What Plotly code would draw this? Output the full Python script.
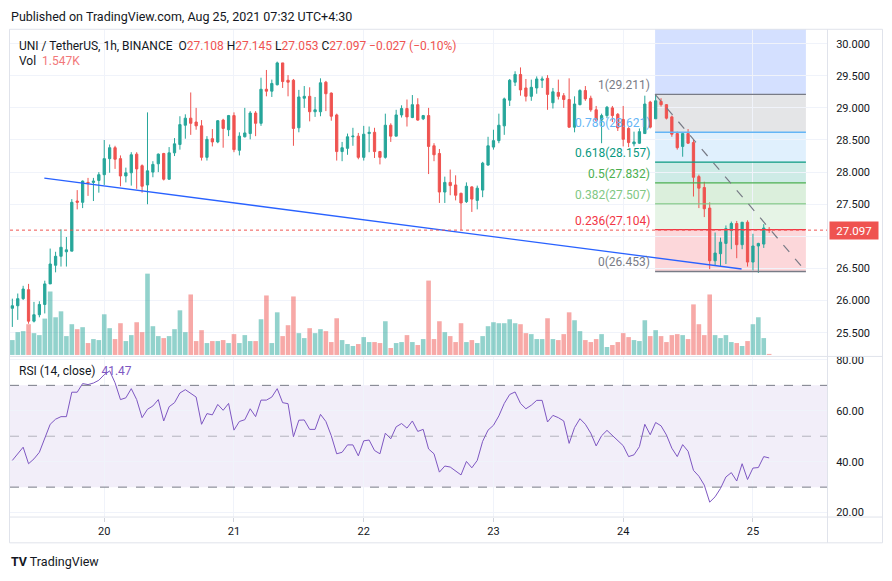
import pandas as pd
import plotly.graph_objects as go

# ---------------- data ----------------
first_bar = "2021-08-19 07:00"   # 1h candles

opens = [25.88, 25.92, 26.03, 26.17, 25.68, 25.78, 25.94, 26.26, 26.55, 26.69,
         26.76, 26.77, 27.55, 27.53, 27.84, 27.84, 27.87, 27.96, 28.21, 28.38,
         28.21, 27.94, 27.99, 28.28, 28.10, 27.80, 28.00, 28.13, 28.29, 27.89,
         28.30, 28.43, 28.73, 28.84, 28.78, 28.72, 28.23, 28.52, 28.47, 28.81,
         28.66, 28.88, 28.34, 28.55, 28.60, 28.92, 28.76, 29.29, 29.26, 29.36,
         29.70, 29.43, 29.43, 28.69, 29.15, 29.18, 28.94, 28.94, 29.40, 29.23,
         28.89, 28.32, 28.37, 28.55, 28.56, 28.23, 28.60, 28.62, 28.32, 28.23,
         28.73, 28.56, 28.89, 28.99, 28.85, 29.05, 28.83, 28.88, 28.41, 28.29,
         27.69, 27.84, 27.80, 27.67, 27.54, 27.77, 27.56, 27.72, 28.11, 28.39,
         28.49, 28.72, 29.12, 29.40, 29.52, 29.31, 29.18, 29.31, 29.43, 29.46,
         29.08, 29.24, 29.19, 29.13, 28.70, 29.05, 29.27, 29.15, 28.97, 28.81,
         28.88, 29.00, 28.90, 28.82, 28.68, 28.44, 28.45, 28.60, 29.09, 28.83,
         29.10, 29.05, 28.86, 28.60, 28.40, 28.60, 28.46, 27.93, 27.76, 27.44,
         26.62, 26.73, 26.89, 27.09, 27.20, 26.87, 27.22, 26.60, 26.85, 26.88,
         27.108]
highs = [26.03, 26.11, 26.23, 26.26, 25.98, 25.99, 26.31, 26.81, 26.76, 27.11,
         26.99, 27.58, 27.72, 27.87, 27.91, 27.91, 28.00, 28.50, 28.43, 28.41,
         28.26, 28.07, 28.31, 28.31, 28.12, 28.93, 28.17, 28.29, 28.30, 28.39,
         28.53, 28.87, 28.90, 29.24, 29.00, 28.81, 28.56, 28.67, 28.81, 28.83,
         28.89, 28.93, 28.62, 29.00, 28.95, 28.95, 29.47, 29.59, 29.44, 29.72,
         29.70, 29.51, 29.45, 29.28, 29.34, 29.32, 29.17, 29.46, 29.42, 29.24,
         28.91, 28.47, 28.60, 28.69, 28.61, 28.72, 28.71, 28.69, 28.33, 28.91,
         28.76, 28.97, 29.04, 29.13, 29.20, 29.15, 28.89, 29.00, 28.45, 28.36,
         27.93, 28.04, 27.95, 27.68, 27.84, 27.78, 27.79, 28.16, 28.55, 28.66,
         28.91, 29.16, 29.45, 29.57, 29.63, 29.45, 29.44, 29.49, 29.49, 29.51,
         29.31, 29.44, 29.23, 29.46, 29.18, 29.29, 29.34, 29.19, 29.03, 28.91,
         29.03, 29.03, 28.92, 29.03, 28.70, 28.63, 28.68, 29.19, 29.11, 29.211,
         29.15, 29.06, 28.88, 28.63, 28.60, 28.67, 28.50, 27.96, 27.85, 27.53,
         27.06, 26.98, 27.17, 27.23, 27.24, 27.22, 27.25, 27.04, 26.90, 27.19,
         27.145]
lows = [25.59, 25.70, 26.01, 25.64, 25.66, 25.74, 25.80, 26.26, 26.44, 26.53,
        26.53, 26.77, 27.42, 27.44, 27.63, 27.55, 27.68, 27.80, 27.99, 28.05,
        27.78, 27.84, 27.79, 27.74, 27.68, 27.50, 27.92, 28.00, 27.87, 27.88,
        28.25, 28.35, 28.52, 28.58, 28.66, 28.18, 28.18, 28.40, 28.45, 28.38,
        28.56, 28.31, 28.26, 28.54, 28.51, 28.56, 28.72, 29.18, 29.17, 29.35,
        29.31, 29.18, 28.41, 28.62, 29.00, 28.79, 28.86, 28.87, 28.95, 28.80,
        28.18, 28.17, 28.27, 28.41, 28.20, 28.18, 28.31, 28.22, 28.12, 28.21,
        28.47, 28.56, 28.85, 28.71, 28.84, 28.80, 28.81, 27.97, 28.17, 27.52,
        27.52, 27.64, 27.56, 27.10, 27.52, 27.38, 27.42, 27.61, 28.10, 28.35,
        28.45, 28.58, 29.03, 29.34, 29.19, 29.10, 29.11, 29.22, 29.31, 28.97,
        28.99, 29.13, 29.00, 28.69, 28.62, 29.04, 29.11, 28.94, 28.78, 28.45,
        28.84, 28.78, 28.64, 28.40, 28.39, 28.40, 28.44, 28.60, 28.68, 28.83,
        29.02, 28.82, 28.55, 28.35, 28.24, 28.44, 27.62, 27.44, 27.30, 26.49,
        26.54, 26.54, 26.57, 26.80, 26.66, 26.80, 26.53, 26.47, 26.43, 26.82,
        27.053]
closes = [25.92, 26.03, 26.18, 25.68, 25.78, 25.94, 26.26, 26.57, 26.69, 26.83,
          26.79, 27.53, 27.53, 27.86, 27.83, 27.86, 27.96, 28.21, 28.38, 28.20,
          27.94, 27.99, 28.27, 28.05, 27.78, 28.02, 28.12, 28.28, 27.89, 28.30,
          28.44, 28.74, 28.84, 28.76, 28.72, 28.23, 28.51, 28.47, 28.80, 28.68,
          28.88, 28.35, 28.56, 28.61, 28.92, 28.76, 29.29, 29.26, 29.38, 29.70,
          29.41, 29.40, 28.68, 29.17, 29.18, 28.94, 28.97, 29.39, 29.22, 28.87,
          28.32, 28.38, 28.55, 28.56, 28.23, 28.59, 28.62, 28.32, 28.23, 28.73,
          28.56, 28.89, 28.99, 28.86, 29.05, 28.81, 28.88, 28.40, 28.27, 27.69,
          27.84, 27.79, 27.64, 27.52, 27.78, 27.58, 27.75, 28.14, 28.41, 28.49,
          28.73, 29.14, 29.43, 29.52, 29.28, 29.18, 29.32, 29.45, 29.45, 29.21,
          29.25, 29.18, 29.13, 28.70, 29.06, 29.27, 29.14, 28.97, 28.81, 28.88,
          29.01, 28.88, 28.69, 28.51, 28.46, 28.47, 28.63, 29.06, 28.70, 29.11,
          29.05, 28.84, 28.59, 28.38, 28.60, 28.45, 27.92, 27.75, 27.43, 26.62,
          26.74, 26.91, 27.12, 27.20, 26.87, 27.22, 26.60, 26.85, 26.89, 27.13,
          27.097]
volumes_k = [22.5, 34.5, 36, 46.5, 33, 30, 55, 96, 57, 66,
             28.5, 46.5, 39, 42, 18, 24, 22.5, 61.5, 40.5, 24,
             48, 21, 30, 49.5, 34.5, 123, 43.5, 28.5, 25.5, 28.5,
             39, 67.5, 34.5, 91.5, 21, 37.5, 18, 21, 21, 22.5,
             18, 31.5, 18, 30, 21, 21, 54, 90, 18, 64.5,
             28.5, 45, 88.5, 33, 25.5, 40.5, 33, 39, 36, 19.5,
             55.5, 22.5, 16.5, 13.5, 16.5, 27, 19.5, 19.5, 18, 51,
             10.5, 18, 19.5, 30, 19.5, 15, 24, 112.5, 24, 51,
             34.5, 28.5, 19.5, 48, 19.5, 22.5, 18, 28.5, 43.5, 49.5,
             48, 48, 54, 48, 46.5, 33, 31.5, 24, 24, 55.5,
             24, 22.5, 31.5, 64.5, 52.5, 36, 22.5, 19.5, 24, 31.5,
             12, 15, 19.5, 33, 27, 22.5, 21, 52.5, 28.5, 37.5,
             28.5, 19.5, 30, 31.5, 30, 24, 76.5, 46.5, 30, 91.5,
             30, 25.5, 30, 19.5, 18, 13.5, 21, 46.5, 57, 25.5,
             1.547]
rsi_values = [40.5, 43.1, 45.7, 39.2, 41.1, 43.7, 48.9, 54.7, 56.7, 57.7,
              57.7, 67.3, 67.3, 70.7, 70.3, 70.9, 72.0, 74.2, 75.7, 71.0,
              64.4, 65.1, 68.7, 64.4, 57.3, 60.6, 61.9, 64.4, 56.0, 61.6,
              63.2, 67.0, 68.3, 67.0, 65.4, 54.7, 58.9, 58.4, 62.5, 60.2,
              62.9, 52.4, 55.8, 56.5, 60.8, 57.7, 64.2, 64.2, 65.4, 68.7,
              63.2, 62.8, 49.8, 56.3, 56.4, 52.7, 52.7, 58.6, 55.8, 50.2,
              43.1, 43.7, 46.6, 46.6, 42.3, 48.2, 48.5, 44.4, 43.1, 51.2,
              49.0, 53.7, 55.0, 53.2, 56.0, 51.9, 52.7, 45.0, 43.1, 35.9,
              38.3, 37.9, 36.2, 34.8, 40.1, 37.6, 40.5, 48.0, 52.4, 54.3,
              58.0, 62.9, 66.4, 67.4, 62.9, 60.8, 62.2, 64.1, 64.1, 55.6,
              58.2, 57.3, 56.0, 47.2, 53.4, 56.9, 54.7, 51.2, 46.2, 50.2,
              52.3, 50.2, 48.2, 46.3, 42.0, 42.7, 45.9, 54.7, 50.6, 55.4,
              54.1, 50.5, 45.3, 42.0, 46.7, 44.1, 36.6, 34.3, 30.8, 24.1,
              26.2, 29.5, 34.0, 35.7, 32.4, 39.2, 33.0, 37.5, 37.7, 42.0,
              41.47]

day_ticks = ["2021-08-20", "2021-08-21", "2021-08-22", "2021-08-23", "2021-08-24", "2021-08-25"]
day_labels = ["20", "21", "22", "23", "24", "25"]
price_ticks = [25.5, 26.0, 26.5, 27.0, 27.5, 28.0, 28.5, 29.0, 29.5, 30.0]
# 27.000 sits behind the last-price tag in the reference
price_labels = ["25.500", "26.000", "26.500", "", "27.500", "28.000",
                "28.500", "29.000", "29.500", "30.000"]
rsi_ticks = [20, 40, 60, 80]
rsi_labels = ["20.00", "40.00", "60.00", "80.00"]

# drawings (time, price)
trend_start = ("2021-08-19 12:55", 27.906)
trend_end = ("2021-08-24 21:54", 26.492)
fib_t0, fib_t1 = "2021-08-24 05:54", "2021-08-25 09:48"
fib_labels = ["0", "0.236", "0.382", "0.5", "0.618", "0.786", "1", "1.618"]
fib_prices = [26.453, 27.104, 27.507, 27.832, 28.157, 28.621, 29.211, 30.915]
fib_colors = ["#787B86", "#F23645", "#81C784", "#4CAF50", "#089981", "#64B5F6", "#787B86", "#2962FF"]
last_price = 27.097

# ---------------- figure ----------------
W, H = 892, 581
UP, DN = "#26A69A", "#EF5350"
FONT = "Roboto"
TXT = "#131722"
GRID = "#F0F3FA"
BORDER = "#E0E3EB"


def px_x(x):
    return x / W


def px_y(y):
    return 1 - y / H


def rgba(hex_color, a):
    h = hex_color.lstrip("#")
    return "rgba(%d,%d,%d,%.2f)" % (int(h[0:2], 16), int(h[2:4], 16), int(h[4:6], 16), a)


times = pd.date_range(first_bar, periods=len(closes), freq="h")
vol_colors = [rgba(UP, 0.5) if c >= o else rgba(DN, 0.5) for o, c in zip(opens, closes)]
x_range = ["2021-08-19 06:34", "2021-08-25 13:42"]

fig = go.Figure()
fig.add_trace(go.Bar(x=times, y=volumes_k, marker=dict(color=vol_colors, line=dict(width=0)),
                     xaxis="x", yaxis="y", hoverinfo="skip"))
fig.add_trace(go.Candlestick(x=times, open=opens, high=highs, low=lows, close=closes,
                             xaxis="x", yaxis="y2", whiskerwidth=0,
                             increasing=dict(line=dict(color=UP, width=1), fillcolor=UP),
                             decreasing=dict(line=dict(color=DN, width=1), fillcolor=DN),
                             hoverinfo="skip"))
fig.add_trace(go.Scatter(x=times, y=rsi_values, xaxis="x2", yaxis="y3", mode="lines",
                         line=dict(color="#7E57C2", width=1), hoverinfo="skip"))

shapes = []
# frame
shapes.append(dict(type="rect", xref="paper", yref="paper", x0=px_x(9.5), x1=px_x(882.5),
                   y0=px_y(544.5), y1=px_y(26.5), line=dict(color=BORDER, width=1), layer="below"))
shapes.append(dict(type="line", xref="paper", yref="paper", x0=px_x(827.5), x1=px_x(827.5),
                   y0=px_y(544.5), y1=px_y(26.5), line=dict(color=BORDER, width=1)))
shapes.append(dict(type="line", xref="paper", yref="paper", x0=px_x(9.5), x1=px_x(882.5),
                   y0=px_y(356.5), y1=px_y(356.5), line=dict(color=BORDER, width=1)))
shapes.append(dict(type="line", xref="paper", yref="paper", x0=px_x(9.5), x1=px_x(882.5),
                   y0=px_y(518.5), y1=px_y(518.5), line=dict(color=BORDER, width=1)))

# fib fills and lines
for i in range(len(fib_prices) - 1):
    shapes.append(dict(type="rect", xref="x", yref="y2", x0=fib_t0, x1=fib_t1,
                       y0=fib_prices[i], y1=fib_prices[i + 1],
                       fillcolor=rgba(fib_colors[i + 1], 0.2), line=dict(width=0), layer="below"))
for p, c in zip(fib_prices, fib_colors):
    shapes.append(dict(type="line", xref="x", yref="y2", x0=fib_t0, x1=fib_t1, y0=p, y1=p,
                       line=dict(color=c, width=1.3)))
shapes.append(dict(type="line", xref="x", yref="y2", x0=fib_t0, x1=fib_t1,
                   y0=fib_prices[6], y1=fib_prices[0],
                   line=dict(color="#787B86", width=1.2, dash="dash")))
# trend line
shapes.append(dict(type="line", xref="x", yref="y2", x0=trend_start[0], y0=trend_start[1],
                   x1=trend_end[0], y1=trend_end[1], line=dict(color="#2962FF", width=1.3)))
# last price dotted line
shapes.append(dict(type="line", xref="paper", yref="y2", x0=px_x(10), x1=px_x(827),
                   y0=last_price, y1=last_price, line=dict(color=DN, width=1, dash="dot")))
# RSI band
shapes.append(dict(type="rect", xref="paper", yref="y3", x0=px_x(10), x1=px_x(827), y0=30, y1=70,
                   fillcolor="rgba(126,87,194,0.1)", line=dict(width=0), layer="below"))
for lvl, col in [(70, "#787B86"), (50, "rgba(120,123,134,0.5)"), (30, "#787B86")]:
    shapes.append(dict(type="line", xref="paper", yref="y3", x0=px_x(10), x1=px_x(827),
                       y0=lvl, y1=lvl, line=dict(color=col, width=1, dash="dash")))

annotations = []
annotations.append(dict(xref="paper", yref="paper", x=px_x(9), y=px_y(14), xanchor="left",
                        yanchor="middle", showarrow=False,
                        text="Published on TradingView.com, Aug 25, 2021 07:32 UTC+4:30",
                        font=dict(family=FONT, size=12.5, color=TXT)))
red = lambda s: "<span style='color:%s'>%s</span>" % (DN, s)
header = ("UNI / TetherUS, 1h, BINANCE  O" + red("27.108") + " H" + red("27.145") +
          " L" + red("27.053") + " C" + red("27.097") + " " + red("\u22120.027 (\u22120.10%)"))
annotations.append(dict(xref="paper", yref="paper", x=px_x(17), y=px_y(43), xanchor="left",
                        yanchor="middle", showarrow=False, text=header,
                        font=dict(family=FONT, size=12, color=TXT)))
annotations.append(dict(xref="paper", yref="paper", x=px_x(17), y=px_y(59), xanchor="left",
                        yanchor="middle", showarrow=False,
                        text="Vol  <span style='color:#F2787A'>1.547K</span>",
                        font=dict(family=FONT, size=12, color=TXT)))
annotations.append(dict(xref="paper", yref="paper", x=px_x(17), y=px_y(371), xanchor="left",
                        yanchor="middle", showarrow=False,
                        text="RSI (14, close)  <span style='color:#7E57C2'>41.47</span>",
                        font=dict(family=FONT, size=12, color=TXT)))
annotations.append(dict(xref="paper", yref="paper", x=px_x(9), y=px_y(563), xanchor="left",
                        yanchor="middle", showarrow=False,
                        text="<b>TV</b> TradingView",
                        font=dict(family=FONT, size=12.5, color=TXT)))
for lab, p, c in zip(fib_labels[:-1], fib_prices[:-1], fib_colors[:-1]):
    annotations.append(dict(xref="x", yref="y2", x=fib_t0, y=p, xanchor="right", yanchor="bottom",
                            xshift=-3, showarrow=False, text="%s(%.3f)" % (lab, p),
                            font=dict(family=FONT, size=12, color=c)))
annotations.append(dict(xref="paper", yref="y2", x=px_x(829), y=last_price, xanchor="left",
                        yanchor="middle", showarrow=False, text="27.097", bgcolor=DN,
                        width=46, height=15, align="center", borderpad=1,
                        font=dict(family=FONT, size=11.5, color="white")))

dom_x = [px_x(10), px_x(827)]
fig.update_layout(
    width=W, height=H, margin=dict(l=0, r=0, t=0, b=0),
    paper_bgcolor="white", plot_bgcolor="white", showlegend=False, hovermode=False,
    bargap=0.15, boxgap=0.4,
    font=dict(family=FONT, size=11, color=TXT),
    shapes=shapes, annotations=annotations,
    xaxis=dict(domain=dom_x, anchor="y", range=x_range, type="date", tickvals=day_ticks,
               ticktext=day_labels, showticklabels=False, showgrid=True, gridcolor=GRID,
               zeroline=False, showline=False, rangeslider=dict(visible=False), fixedrange=True),
    yaxis=dict(domain=[px_y(355), px_y(27)], range=[0, 492], visible=False, showgrid=False,
               fixedrange=True),
    yaxis2=dict(overlaying="y", anchor="x", side="right", range=[25.154, 30.216],
                tickvals=price_ticks, ticktext=price_labels, showgrid=True, gridcolor=GRID,
                zeroline=False, showline=False, ticks="outside", ticklen=6,
                tickcolor="rgba(0,0,0,0)", tickfont=dict(family=FONT, size=11, color=TXT)),
    xaxis2=dict(domain=dom_x, anchor="y3", matches="x", range=x_range, type="date",
                tickvals=day_ticks, ticktext=day_labels, showgrid=True, gridcolor=GRID,
                zeroline=False, showline=False, ticks="outside", ticklen=4, tickcolor="#D1D4DC",
                tickfont=dict(family=FONT, size=11, color=TXT)),
    yaxis3=dict(domain=[px_y(518.5), px_y(357)], anchor="x2", side="right", range=[18.25, 81.17],
                tickvals=rsi_ticks, ticktext=rsi_labels, showgrid=True, gridcolor=GRID,
                zeroline=False, showline=False, ticks="outside", ticklen=6,
                tickcolor="rgba(0,0,0,0)", tickfont=dict(family=FONT, size=11, color=TXT)),
)

fig.write_html("out.html", config={"displayModeBar": False, "staticPlot": True},
               post_script="document.body.style.margin='0px';")
